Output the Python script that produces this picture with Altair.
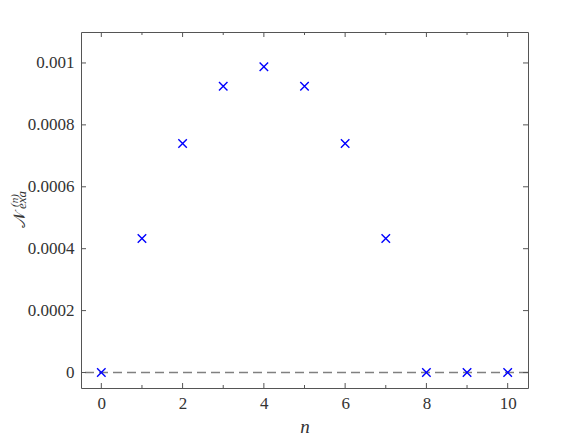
import altair as alt
import pandas as pd

n_vals = [0, 1, 2, 3, 4, 5, 6, 7, 8, 9, 10]
N_exa = [0.0, 0.000433, 0.00074, 0.000925, 0.000988, 0.000925, 0.00074, 0.000433, 0.0, 0.0, 0.0]
x_major = [0, 2, 4, 6, 8, 10]
x_minor = [1, 3, 5, 7, 9]
y_major = [0, 0.0002, 0.0004, 0.0006, 0.0008, 0.001]
zero_line = [0.0]
x_title = "n"
y_title_main = ["𝒩"]
y_title_sup = ["(n)"]
y_title_sub = ["exa"]

W, H = 447, 356
FONT = "Liberation Serif"
FRAME = "#555555"
TXT = "#333333"

df = pd.DataFrame({"n": n_vals, "v": N_exa})
zdf = pd.DataFrame({"v": zero_line})
xmaj = pd.DataFrame({"t": x_major})
xmin = pd.DataFrame({"t": x_minor})
ymaj = pd.DataFrame({"t": y_major})

xs = alt.Scale(domain=[-0.5, 10.5], nice=False, zero=False)
ys = alt.Scale(domain=[-0.00005, 0.0011], nice=False, zero=False)

AX = dict(labelFont=FONT, titleFont=FONT, labelColor=TXT, titleColor=TXT, grid=False)

rule = alt.Chart(zdf).mark_rule(color="#808080", strokeWidth=1.5, strokeDash=[9, 5]).encode(
    y=alt.Y("v:Q", scale=ys, axis=None)
)

points = alt.Chart(df).mark_point(
    shape="M-1,-1L1,1M-1,1L1,-1", size=72, color="#0000ff", strokeWidth=1.4,
    filled=False, opacity=1
).encode(
    x=alt.X("n:Q", scale=xs, axis=alt.Axis(
        orient="bottom", values=x_major, ticks=False, tickSize=0, domain=False,
        labelPadding=7, labelFontSize=17, title=x_title, titleFontSize=19,
        titleFontStyle="italic", titleFontWeight="normal", titleY=44,
        titleBaseline="alphabetic", **AX)),
    y=alt.Y("v:Q", scale=ys, axis=alt.Axis(
        orient="left", values=y_major, format="~g", ticks=False, tickSize=0,
        domain=False, labelPadding=7, labelFontSize=17, title=None, **AX)),
)

def title_text(parts, size, px, py, italic=True):
    return alt.Chart(pd.DataFrame({"s": parts})).mark_text(
        font=FONT, fontSize=size, fontStyle="italic" if italic else "normal",
        angle=270, align="center", baseline="middle", color=TXT
    ).encode(text="s:N", x=alt.value(px), y=alt.value(py))

ytitle = [
    title_text(y_title_main, 17, -61, 188, italic=False),
    title_text(y_title_sup, 11, -66, 168.5),
    title_text(y_title_sub, 13, -59, 168),
]

def xticks(data, length, top):
    y0, y1 = (0, length) if top else (H, H - length)
    return alt.Chart(data).mark_rule(color=FRAME, strokeWidth=1).encode(
        x=alt.X("t:Q", scale=xs, axis=None),
        y=alt.value(y0), y2=alt.value(y1),
    )

def yticks(data, length, right):
    x0, x1 = (W, W - length) if right else (0, length)
    return alt.Chart(data).mark_rule(color=FRAME, strokeWidth=1).encode(
        y=alt.Y("t:Q", scale=ys, axis=None),
        x=alt.value(x0), x2=alt.value(x1),
    )

ticks = [
    xticks(xmaj, 5, False), xticks(xmaj, 5, True),
    xticks(xmin, 3, False), xticks(xmin, 3, True),
    yticks(ymaj, 5, False), yticks(ymaj, 5, True),
]

chart = alt.layer(rule, *ticks, *ytitle, points).resolve_axis(
    x="independent", y="independent"
).properties(
    width=W, height=H,
    autosize=alt.AutoSizeParams(type="none"),
    padding={"left": 73, "top": 24, "right": 40, "bottom": 60},
    background="white",
).configure_view(stroke=FRAME, strokeWidth=1)

chart.save("out.html", embed_options={"renderer": "svg", "actions": False})
